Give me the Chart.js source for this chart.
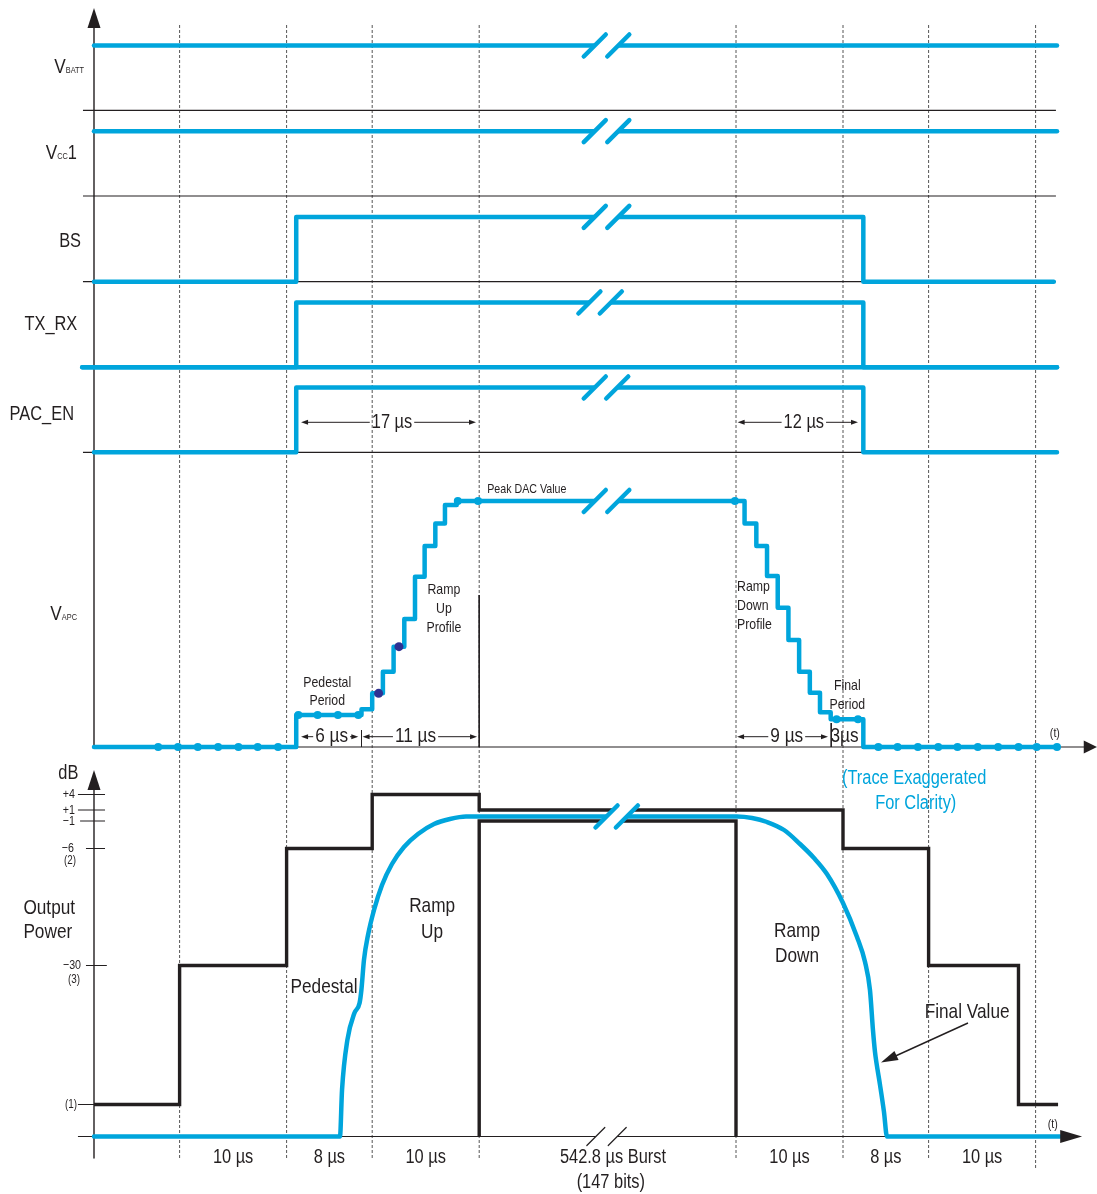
<!DOCTYPE html>
<html>
<head>
<meta charset="utf-8">
<title>PA control timing</title>
<script src="https://cdn.jsdelivr.net/npm/chart.js@4.4.1/dist/chart.umd.min.js"></script>
<style>
  html, body { margin: 0; padding: 0; background: #fff; }
  #wrap { position: relative; width: 1097px; height: 1194px; }
</style>
</head>
<body>
<div id="wrap"><canvas id="timingChart"></canvas></div>
<script>
/* ================================================================
   PA control timing diagram — Chart.js scatter rendering
   ================================================================ */

/* --- Data: time axis (diagram µs, burst compressed, 0 = left axis) --- */
const gridTimes = [8, 18, 26, 36, 60, 70, 78, 88];
const spanLabels = ['10 µs', '8 µs', '10 µs', '542.8 µs Burst', '10 µs', '8 µs', '10 µs'];

/* --- Data: logic rows, [edge time, new level] --- */
const rowNames = ['VBATT', 'VCC1', 'BS', 'TX_RX', 'PAC_EN'];
const vbattSteps = [[0, 1], [90, 1]];
const vcc1Steps = [[0, 1], [90, 1]];
const bsSteps = [[0, 0], [18.9, 1], [71.9, 0], [89.7, 0]];
const txrxSteps = [[-1.1, 0], [18.9, 1], [71.9, 0], [90, 0]];
const pacenSteps = [[0, 0], [18.9, 1], [71.9, 0], [90, 0]];
const rowBreaks = [[46.8, 49.0], [46.8, 49.0], [46.8, 49.0], [46.3, 48.3], [46.8, 48.9]];

/* --- Data: VAPC DAC profile (% of peak), [step time, new level] --- */
const vapcTimes = [0, 18.9, 25, 26, 27, 28, 29, 30, 30.9, 31.9, 32.8, 33.9,
                   60, 60.8, 61.9, 62.9, 63.9, 64.9, 65.9, 66.9, 67.85, 68.85, 71.9, 90];
const vapcLevels = [0, 13, 15.3, 21.8, 30.6, 40.8, 52, 69.2, 81.7, 90.9, 98.4, 100,
                    100, 90.9, 81.7, 69.5, 56.6, 43.5, 30.6, 22.1, 14.1, 11.3, 0, 0];
const sampleTimes = [6, 7.85, 9.7, 11.6, 13.5, 15.3, 17.2, 19.1, 20.9, 22.8, 24.7, 34, 35.9,
                     59.9, 69.4, 71.4, 73.3, 75.1, 77, 78.9, 80.7, 82.6, 84.5, 86.4, 88.1, 90];
const sampleLevels = [0, 0, 0, 0, 0, 0, 0, 13, 13, 13, 13, 100, 100,
                      100, 11.3, 11.3, 0, 0, 0, 0, 0, 0, 0, 0, 0, 0];
const markerTimes = [26.6, 28.5];
const markerLevels = [21.8, 40.8];
const vapcBreak = [46.8, 49.0];

/* --- Data: output power (diagram units above the time axis) --- */
const powerTickLabels = ['+4', '+1', '−1', '−6', '−30', '(1)'];
const powerTickVals = [342, 326.5, 315.5, 288, 171, 32];
const maskTimes = [0, 8, 18, 26, 36, 70, 78, 86.4, 90.1];
const maskLevels = [32, 171, 288, 342, 326.5, 288, 171, 32, 32];
const burstTimes = [36, 36, 60, 60];
const burstLevels = [0, 315.5, 315.5, 0];
const powerTimes = [0, 22.99, 23.18, 23.68, 24.34, 24.82, 24.99, 25.23, 25.61, 26.17, 26.92, 27.85,
                    28.97, 30.28, 31.78, 33.27, 34.77, 35.89,
                    60.09, 61.5, 62.9, 64.49, 65.98, 67.29, 68.5, 70.0, 71.31, 72.06, 72.52,
                    72.8, 72.99, 73.13, 73.46, 73.83, 74.11, 90.28];
const powerLevels = [0, 0, 46.5, 96.5, 123.5, 133.5, 146.5, 176.5, 201.5, 226.5, 251.5, 272.5,
                     289.5, 302.5, 312.5, 317.5, 320, 320,
                     320, 318.5, 314.5, 306.5, 292.5, 278.5, 262.5, 233.5, 199.5, 174.5, 146.5,
                     106.5, 84.5, 73.5, 51.5, 24.5, 0, 0];
const powerBreak = [47.9, 49.8];
const axisBreak = [46.9, 48.9];

/* --- Layout --- */
const W = 1097, H = 1194;
const AXIS_PX = 94, US_PX = 10.7;
const LANE_LOW = [110.3, 196, 281.7, 367.3, 452.3];
const LANE_SWING = 64.8;
const VAPC_ZERO = 747, VAPC_UNIT = 2.46;
const PWR_ZERO = 1136.5;
const BLUE = '#00a5dc', INK = '#231f20', NAVY = '#2e3192', GRID = '#555';
const FONT = '"Liberation Sans", Arial, sans-serif';
const NARROW = 0.82;

const laneY = (i, v) => LANE_LOW[i] - v * LANE_SWING;
const vapcY = v => VAPC_ZERO - v * VAPC_UNIT;
const pwrY = v => PWR_ZERO - v;
const pairs = (ts, vs, map) => ts.map((t, i) => ({ x: t, y: map(vs[i]) }));
const steps = (arr, map) => arr.map(([t, v]) => ({ x: t, y: map(v) }));
const seg = (t0, y0, t1, y1) => [{ x: t0, y: y0 }, { x: t1, y: y1 }];

function lineSet(data, opts) {
    return Object.assign({
        data, showLine: true, pointRadius: 0, borderWidth: 4.5, borderColor: BLUE,
        fill: false, tension: 0, borderCapStyle: 'round', borderJoinStyle: 'round', order: 2
    }, opts);
}
const thin = (data, opts) => lineSet(data, Object.assign({ borderWidth: 1.2, borderColor: INK, borderCapStyle: 'butt', order: 8 }, opts));

/* --- Datasets --- */
const datasets = [];

// logic traces
[vbattSteps, vcc1Steps, bsSteps, txrxSteps, pacenSteps].forEach((s, i) => {
    datasets.push(lineSet(steps(s, v => laneY(i, v)), { stepped: 'before' }));
});
datasets.push(lineSet(seg(txrxSteps[0][0], laneY(3, 0), 90, laneY(3, 0))));

// VAPC staircase + sample points
datasets.push(lineSet(pairs(vapcTimes, vapcLevels, vapcY), { stepped: 'before' }));
datasets.push({ data: pairs(sampleTimes, sampleLevels, vapcY), showLine: false, pointRadius: 4,
    pointBackgroundColor: BLUE, pointBorderWidth: 0, order: 1 });
datasets.push({ data: pairs(markerTimes, markerLevels, vapcY), showLine: false, pointRadius: 4.5,
    pointBackgroundColor: NAVY, pointBorderWidth: 0, order: 0 });

// output power
datasets.push(lineSet(pairs(powerTimes, powerLevels, pwrY), { cubicInterpolationMode: 'monotone' }));
datasets.push(lineSet(pairs(maskTimes, maskLevels, pwrY), { stepped: 'before', borderColor: INK, borderWidth: 3.4, borderCapStyle: 'butt', borderJoinStyle: 'miter', order: 5 }));
datasets.push(lineSet(pairs(burstTimes, burstLevels, pwrY), { borderColor: INK, borderWidth: 3.4, borderCapStyle: 'butt', borderJoinStyle: 'miter', order: 5 }));

// axes, lane separators, ticks
LANE_LOW.forEach(yv => datasets.push(thin(seg(-1.03, yv, 89.9, yv))));
datasets.push(thin(seg(0, 28, 0, VAPC_ZERO), { borderWidth: 1.4 }));
datasets.push(thin(seg(0, 789, 0, 1158), { borderWidth: 1.4 }));
datasets.push(thin(seg(0, VAPC_ZERO, 92.6, VAPC_ZERO)));
datasets.push(thin(seg(-1.5, PWR_ZERO, 90.5, PWR_ZERO)));
const tickSpans = [[-1.5, 1.03], [-1.5, 1.03], [-1.3, 1.03], [-0.75, 1.03], [-0.75, 1.2], [-1.5, 0]];
powerTickVals.forEach((v, i) => datasets.push(thin(seg(tickSpans[i][0], pwrY(v), tickSpans[i][1], pwrY(v)), { borderWidth: 1 })));
datasets.push(thin(seg(25, 730, 25, VAPC_ZERO), { borderWidth: 1 }));
datasets.push(thin(seg(68.9, 723, 68.9, VAPC_ZERO), { borderWidth: 1 }));
datasets.push(thin(seg(36, 595, 36, VAPC_ZERO), { borderWidth: 1 }));

// dashed time grid
gridTimes.forEach((t, i) => datasets.push(thin(seg(t, 25, t, i === gridTimes.length - 1 ? 1168 : 1160),
    { borderWidth: 1, borderColor: GRID, borderDash: [3, 2], order: 10 })));

/* --- Annotations --- */
const rowLabelParts = [
    [['V', 21], ['BATT', 9]],
    [['V', 21], ['CC', 9], ['1', 20]],
    [['BS', 20]],
    [['TX_RX', 20]],
    [['PAC_EN', 20]],
    [['V', 21], ['APC', 9]]
];
const rowLabelPos = [[-0.93, 72.7], [-1.59, 159.3], [-1.21, 246.7], [-1.56, 330], [-1.87, 420], [-1.59, 620]];

const notes = [
    ['Pedestal', 21.8, 683, 15, 'center'], ['Period', 21.8, 701, 15, 'center'],
    ['Ramp', 32.7, 590, 15, 'center'], ['Up', 32.7, 609, 15, 'center'], ['Profile', 32.7, 628, 15, 'center'],
    ['Peak DAC Value', 36.75, 489, 13, 'left'],
    ['Ramp', 60.1, 587, 15, 'left'], ['Down', 60.1, 606, 15, 'left'], ['Profile', 60.1, 625, 15, 'left'],
    ['Final', 70.4, 686, 15, 'center'], ['Period', 70.4, 705, 15, 'center'],
    ['(t)', 89.8, 733, 13, 'center'],
    ['(Trace Exaggerated', 69.9, 778, 20, 'left', BLUE], ['For Clarity)', 76.8, 803, 20, 'center', BLUE],
    ['dB', -2.4, 773, 20, 'center'],
    ['Output', -6.6, 908, 21, 'left'], ['Power', -6.6, 932, 21, 'left'],
    ['Ramp', 31.6, 906, 21, 'center'], ['Up', 31.6, 932, 21, 'center'],
    ['Pedestal', 21.5, 987, 21, 'center'],
    ['Ramp', 65.7, 931, 21, 'center'], ['Down', 65.7, 956, 21, 'center'],
    ['Final Value', 81.6, 1012, 21, 'center'],
    ['(147 bits)', 48.3, 1182, 20, 'center'],
    ['(t)', 89.6, 1124, 13, 'center'],
    ['(2)', -1.68, 861, 12, 'right'], ['(3)', -1.31, 980, 12, 'right']
];
const powerTickRight = [-1.78, -1.78, -1.78, -1.87, -1.21, -1.59];

const dims = [
    { t0: 19.35, t1: 35.7, tc: 27.85, y: 422.3, text: '17 µs', size: 20 },
    { t0: 60.15, t1: 71.4, tc: 66.34, y: 422.3, text: '12 µs', size: 20 },
    { t0: 19.35, t1: 24.7, tc: 22.21, y: 736.7, text: '6 µs', size: 21 },
    { t0: 25.1, t1: 35.8, tc: 30.05, y: 736.7, text: '11 µs', size: 21 },
    { t0: 60.1, t1: 68.6, tc: 64.74, y: 736.7, text: '9 µs', size: 21 },
    { t0: 68.95, t1: 71.8, tc: 70.14, y: 736.7, text: '3µs', size: 21, noLine: true }
];

const diagramPlugin = {
    id: 'diagram',
    afterDatasetsDraw(chart) {
        const { ctx, scales: { x, y } } = chart;
        const X = t => x.getPixelForValue(t);
        const Y = v => y.getPixelForValue(v);

        const tri = (tx, ty, bx, by, hw, color) => {
            const dx = tx - bx, dy = ty - by, len = Math.hypot(dx, dy);
            const nx = -dy / len * hw, ny = dx / len * hw;
            ctx.fillStyle = color || INK;
            ctx.beginPath();
            ctx.moveTo(tx, ty); ctx.lineTo(bx + nx, by + ny); ctx.lineTo(bx - nx, by - ny);
            ctx.closePath(); ctx.fill();
        };
        const line = (x0, y0, x1, y1, w) => {
            ctx.lineWidth = w; ctx.beginPath(); ctx.moveTo(x0, y0); ctx.lineTo(x1, y1); ctx.stroke();
        };
        const measure = (str, size) => { ctx.font = `${size}px ${FONT}`; return ctx.measureText(str).width * NARROW; };
        const label = (str, px, py, size, align, color, baseline) => {
            ctx.font = `${size}px ${FONT}`;
            ctx.fillStyle = color || INK;
            ctx.textAlign = align;
            ctx.textBaseline = baseline || 'middle';
            ctx.save();
            ctx.translate(px, py);
            ctx.scale(NARROW, 1);
            ctx.fillText(str, 0, 0);
            ctx.restore();
        };

        ctx.save();

        /* break marks */
        const breaks = rowBreaks.map((b, i) => ({ t: b, y: laneY(i, 1), h: 11, w: 4.5, c: BLUE }));
        breaks.push({ t: vapcBreak, y: vapcY(100), h: 11, w: 4.5, c: BLUE });
        breaks.push({ t: powerBreak, y: pwrY(320), h: 11, w: 4.5, c: BLUE });
        breaks.push({ t: axisBreak, y: PWR_ZERO, h: 9, w: 1.2, c: INK });
        breaks.forEach(b => {
            const yy = Y(b.y), x1 = X(b.t[0]), x2 = X(b.t[1]), h = b.h;
            ctx.fillStyle = '#fff';
            ctx.beginPath();
            ctx.moveTo(x1 - h, yy + h); ctx.lineTo(x1 + h, yy - h);
            ctx.lineTo(x2 + h, yy - h); ctx.lineTo(x2 - h, yy + h);
            ctx.closePath(); ctx.fill();
            ctx.strokeStyle = b.c; ctx.lineCap = 'round';
            [x1, x2].forEach(cx => line(cx - h, yy + h, cx + h, yy - h, b.w));
        });

        /* axis arrowheads */
        tri(X(0), Y(8), X(0), Y(28), 6.5);
        tri(X(0), Y(770), X(0), Y(790), 6.5);
        tri(X(93.74), Y(VAPC_ZERO), X(92.5), Y(VAPC_ZERO), 6.5);
        tri(X(92.34), Y(PWR_ZERO), X(90.3), Y(PWR_ZERO), 6.5);

        /* "Final Value" pointer */
        ctx.strokeStyle = INK; ctx.lineCap = 'butt';
        line(X(81.68), Y(1023), X(74.6), Y(1057.5), 1.4);
        tri(X(73.55), Y(1062.5), X(75.0), Y(1055.5), 5);

        /* dimension arrows */
        dims.forEach(d => {
            const a = X(d.t0), b = X(d.t1), c = X(d.tc), yy = Y(d.y);
            const w = measure(d.text, d.size);
            if (!d.noLine) {
                ctx.strokeStyle = INK;
                line(a + 4, yy, c - w / 2 - 2, yy, 1);
                line(c + w / 2 + 2, yy, b - 4, yy, 1);
                tri(a, yy, a + 7, yy, 2.5);
                tri(b, yy, b - 7, yy, 2.5);
            }
            label(d.text, c, yy, d.size, 'center');
        });

        /* row labels with subscripts */
        rowLabelParts.forEach((parts, i) => {
            const [t, base] = rowLabelPos[i];
            const widths = parts.map(([s, sz]) => measure(s, sz));
            let px = X(t) - widths.reduce((a, b) => a + b, 0);
            parts.forEach(([s, sz], k) => {
                label(s, px, Y(base), sz, 'left', INK, 'alphabetic');
                px += widths[k];
            });
        });

        /* power tick labels */
        powerTickLabels.forEach((s, i) => {
            label(s, X(powerTickRight[i]), Y(pwrY(powerTickVals[i])), i === 5 ? 12 : 13, 'right');
        });

        /* span labels under the time axis */
        spanLabels.forEach((s, i) => {
            const mid = (gridTimes[i] + gridTimes[i + 1]) / 2 + (i === 3 ? 0.5 : 0);
            label(s, X(mid), Y(1157), 20, 'center');
        });

        notes.forEach(([s, t, yy, sz, al, col]) => label(s, X(t), Y(yy), sz, al, col));

        ctx.restore();
    }
};

/* --- Chart --- */
document.addEventListener('DOMContentLoaded', () => {
    const ctx = document.getElementById('timingChart').getContext('2d');
    new Chart(ctx, {
        type: 'scatter',
        data: { datasets },
        options: {
            responsive: true,
            maintainAspectRatio: false,
            animation: false,
            devicePixelRatio: 1,
            events: [],
            layout: { padding: 0, autoPadding: false },
            scales: {
                x: { type: 'linear', min: -AXIS_PX / US_PX, max: (W - AXIS_PX) / US_PX, display: false },
                y: { type: 'linear', min: 0, max: H, reverse: true, display: false }
            },
            plugins: { legend: { display: false }, tooltip: { enabled: false } }
        },
        plugins: [diagramPlugin]
    });
});
</script>
</body>
</html>
